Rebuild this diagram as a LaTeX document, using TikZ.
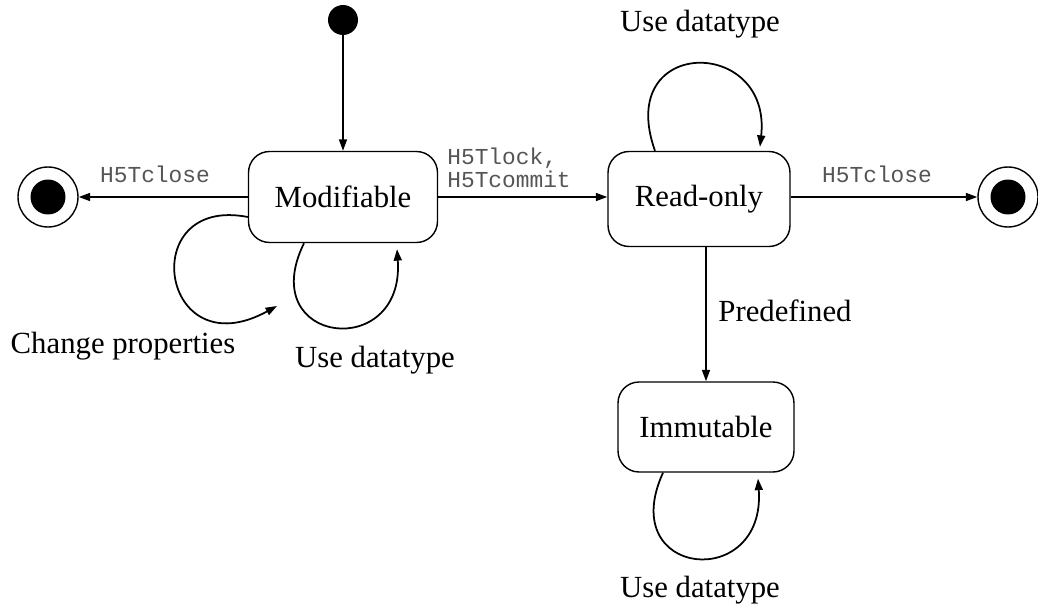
\documentclass[tikz,border=0pt]{standalone}
\usepackage{fontspec}
\setmainfont{Liberation Serif}
\setmonofont{Liberation Mono}
\usetikzlibrary{arrows.meta,positioning,calc}
\definecolor{StateBlack}{HTML}{000000}
\definecolor{StateWhite}{HTML}{ffffff}
\definecolor{CallGrey}{HTML}{555555}
\tikzset{
    % State box style
    statenode/.style={
        draw=StateBlack,
        fill=StateWhite,
        line width=0.8pt,
        rounded corners=0.42cm,
        inner sep=0pt,
        align=center,
        font=\fontsize{17.5}{20}\selectfont
    },
    % Initial state
    startnode/.style={
        circle,
        fill=StateBlack,
        minimum size=0.6cm,
        inner sep=0pt
    },
    % Final state
    endnode/.style={
        circle,
        draw=StateBlack,
        line width=0.8pt,
        minimum size=1.2cm,
        inner sep=0pt,
        path picture={\fill[StateBlack] (path picture bounding box.center) circle (0.35cm);}
    },
    % Event label (serif)
    eventlabel/.style={
        font=\fontsize{17.5}{20}\selectfont,
        inner sep=0pt
    },
    % API call label (mono)
    calllabel/.style={
        font=\ttfamily\fontsize{13}{11.5}\selectfont,
        text=CallGrey,
        align=left,
        inner sep=0pt
    },
    % Arrow styles
    myarrow/.style={
        -{Triangle[length=6.5pt,width=4.5pt]},
        line width=1pt,
        draw=StateBlack
    }
}
\begin{document}
\begin{tikzpicture}[x=0.02cm, y=-0.02cm]
        \useasboundingbox (0,0) rectangle (1038,612);

        % States
        \node[startnode] (init) at (343,20) {};
        \node[statenode, minimum width=3.78cm, minimum height=1.82cm] (mod) at (343,197) {Modifiable};
        \node[statenode, minimum width=3.64cm, minimum height=1.9cm] (ro) at (699,199) {Read-only};
        \node[statenode, minimum width=3.52cm, minimum height=1.8cm] (imm) at (706,427) {Immutable};
        \node[endnode] (endl) at (48,197) {};
        \node[endnode] (endr) at (1008,197) {};

        % Transitions
        \draw[myarrow] (init) -- (mod);
        \draw[myarrow] (mod.west |- endl) -- (endl);
        \draw[myarrow] (mod.east |- endr) -- (ro.west |- endr);
        \draw[myarrow] (ro.east |- endr) -- (endr);
        \draw[myarrow] (imm.north |- ro.south) -- (imm.north);

        % Self loops
        \draw[myarrow] ($(mod.south)+(-39,0)$) .. controls (254,345) and (405,362) .. ($(mod.south)+(54,6)$);
        \draw[myarrow] ($(mod.west)+(0,20)$) .. controls (135,195) and (160,370) .. (277,306);
        \draw[myarrow] ($(ro.north)+(-44,0)$) .. controls (614,36) and (772,36) .. ($(ro.north)+(61,-4)$);
        \draw[myarrow] ($(imm.south)+(-43,0)$) .. controls (615,578) and (766,592) .. ($(imm.south)+(52,6)$);

        % Labels
        \node[calllabel] (lclose) at (155,174) {H5Tclose};
        \node[calllabel, anchor=north west] (llock) at (447,148) {H5Tlock,\\H5Tcommit};
        \node[calllabel] (rclose) at (877,174) {H5Tclose};
        \node[eventlabel] (lpre) at (785,311) {Predefined};
        \node[eventlabel] (lchange) at (123,346) {Change properties};
        \node[eventlabel] (lusemod) at (375,360) {Use datatype};
        \node[eventlabel] (lusero) at (700,24) {Use datatype};
        \node[eventlabel] (luseimm) at (700,590) {Use datatype};
    \end{tikzpicture}
\end{document}
